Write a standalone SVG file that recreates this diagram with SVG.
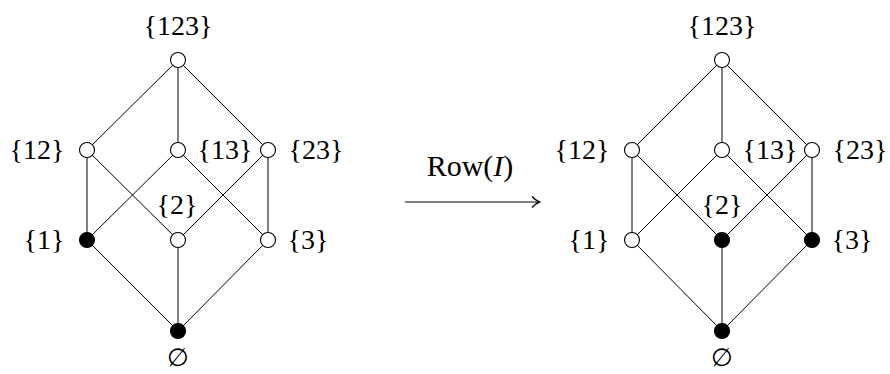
<svg xmlns="http://www.w3.org/2000/svg" width="890" height="374" viewBox="0 0 890 374">
<style>
text{font-family:"Liberation Serif","DejaVu Serif",serif;font-size:28px;fill:#000;text-anchor:middle}
.e line{stroke:#000;stroke-width:1}
circle{stroke:#000;stroke-width:1.1;fill:#fff}
circle.f{fill:#000}
.es{font-size:25px}
</style>
<defs>
<marker id="ah" markerWidth="14" markerHeight="14" refX="9" refY="7" orient="auto" markerUnits="userSpaceOnUse">
<path d="M2,1.5 Q5.5,5.5 9.5,7 Q5.5,8.5 2,12.5" fill="none" stroke="#000" stroke-width="1.4"/>
</marker>
</defs>
<g id="connectors" class="e">
<line x1="178" y1="60" x2="87" y2="150"/><line x1="178" y1="60" x2="178" y2="150"/><line x1="178" y1="60" x2="268" y2="150"/>
<line x1="87" y1="150" x2="87" y2="240"/><line x1="87" y1="150" x2="178" y2="240"/>
<line x1="178" y1="150" x2="87" y2="240"/><line x1="178" y1="150" x2="268" y2="240"/>
<line x1="268" y1="150" x2="178" y2="240"/><line x1="268" y1="150" x2="268" y2="240"/>
<line x1="87" y1="240" x2="178" y2="331"/><line x1="178" y1="240" x2="178" y2="331"/><line x1="268" y1="240" x2="178" y2="331"/>
<line x1="722" y1="60" x2="632" y2="150"/><line x1="722" y1="60" x2="722" y2="150"/><line x1="722" y1="60" x2="812" y2="150"/>
<line x1="632" y1="150" x2="632" y2="240"/><line x1="632" y1="150" x2="722" y2="240"/>
<line x1="722" y1="150" x2="632" y2="240"/><line x1="722" y1="150" x2="812" y2="240"/>
<line x1="812" y1="150" x2="722" y2="240"/><line x1="812" y1="150" x2="812" y2="240"/>
<line x1="632" y1="240" x2="722" y2="331"/><line x1="722" y1="240" x2="722" y2="331"/><line x1="812" y1="240" x2="722" y2="331"/>
<line x1="405" y1="202" x2="539" y2="202" stroke-width="1.3" marker-end="url(#ah)"/>
</g>
<g id="arrow-label"><text x="470" y="176" style="font-size:30px">Row(<tspan font-style="italic">I</tspan>)</text></g>
<g id="L123"><circle cx="178" cy="60" r="7.5"/><text x="178" y="35">{123}</text></g>
<g id="L12"><circle cx="87" cy="150" r="7.5"/><text x="37" y="159">{12}</text></g>
<g id="L13"><circle cx="178" cy="150" r="7.5"/><text x="225" y="159">{13}</text></g>
<g id="L23"><circle cx="268" cy="150" r="7.5"/><text x="316" y="159">{23}</text></g>
<g id="L1"><circle class="f" cx="87" cy="240" r="7.5"/><text x="44" y="249">{1}</text></g>
<g id="L2"><circle cx="178" cy="240" r="7.5"/><text x="177" y="214">{2}</text></g>
<g id="L3"><circle cx="268" cy="240" r="7.5"/><text x="308" y="249">{3}</text></g>
<g id="L0"><circle class="f" cx="178" cy="331" r="7.5"/><text class="es" x="178" y="366">∅</text></g>
<g id="R123"><circle cx="722" cy="60" r="7.5"/><text x="722" y="35">{123}</text></g>
<g id="R12"><circle cx="632" cy="150" r="7.5"/><text x="582" y="159">{12}</text></g>
<g id="R13"><circle cx="722" cy="150" r="7.5"/><text x="770" y="159">{13}</text></g>
<g id="R23"><circle cx="812" cy="150" r="7.5"/><text x="860" y="159">{23}</text></g>
<g id="R1"><circle cx="632" cy="240" r="7.5"/><text x="589" y="249">{1}</text></g>
<g id="R2"><circle class="f" cx="722" cy="240" r="7.5"/><text x="722" y="214">{2}</text></g>
<g id="R3"><circle class="f" cx="812" cy="240" r="7.5"/><text x="852" y="249">{3}</text></g>
<g id="R0"><circle class="f" cx="722" cy="331" r="7.5"/><text class="es" x="722" y="366">∅</text></g>
</svg>
